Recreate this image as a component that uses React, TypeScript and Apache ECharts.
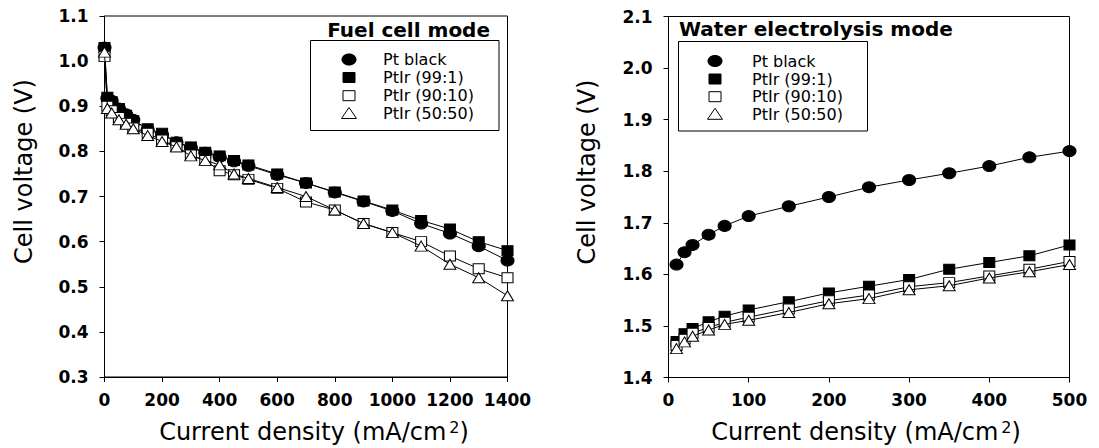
import React, { useEffect, useRef } from "react";
import * as echarts from "echarts";

// ---- Data ----
const SERIES_NAMES = ["Pt black", "PtIr (99:1)", "PtIr (90:10)", "PtIr (50:50)"];

// Fuel cell mode (left panel)
const FC_X = [0, 10, 25, 50, 75, 100, 150, 200, 250, 300, 350, 400, 450, 500, 600, 700, 800, 900, 1000, 1100, 1200, 1300, 1400];
const FC_PT = [1.03, 0.918, 0.912, 0.895, 0.882, 0.870, 0.848, 0.837, 0.820, 0.808, 0.797, 0.788, 0.778, 0.768, 0.748, 0.730, 0.709, 0.689, 0.668, 0.640, 0.618, 0.590, 0.558];
const FC_99 = [1.03, 0.92, 0.91, 0.895, 0.88, 0.868, 0.85, 0.84, 0.82, 0.81, 0.798, 0.79, 0.78, 0.77, 0.75, 0.73, 0.71, 0.69, 0.67, 0.647, 0.628, 0.600, 0.580];
const FC_90 = [1.01, 0.90, 0.89, 0.875, 0.862, 0.852, 0.84, 0.825, 0.81, 0.792, 0.78, 0.757, 0.748, 0.738, 0.718, 0.688, 0.670, 0.640, 0.620, 0.600, 0.568, 0.540, 0.520];
const FC_50 = [1.02, 0.895, 0.885, 0.87, 0.86, 0.85, 0.835, 0.822, 0.81, 0.79, 0.78, 0.77, 0.75, 0.74, 0.72, 0.70, 0.67, 0.64, 0.62, 0.59, 0.55, 0.52, 0.48];

// Water electrolysis mode (right panel)
const WE_X = [10, 20, 30, 50, 70, 100, 150, 200, 250, 300, 350, 400, 450, 500];
const WE_PT = [1.619, 1.643, 1.657, 1.677, 1.694, 1.713, 1.732, 1.750, 1.769, 1.783, 1.796, 1.810, 1.827, 1.839];
const WE_99 = [1.470, 1.485, 1.495, 1.508, 1.519, 1.531, 1.547, 1.564, 1.577, 1.590, 1.610, 1.623, 1.636, 1.657];
const WE_90 = [1.462, 1.474, 1.486, 1.497, 1.507, 1.517, 1.533, 1.549, 1.560, 1.576, 1.584, 1.597, 1.610, 1.625];
const WE_50 = [1.456, 1.469, 1.480, 1.492, 1.503, 1.511, 1.526, 1.543, 1.553, 1.570, 1.578, 1.593, 1.605, 1.619];

const TITLES = ["Fuel cell mode", "Water electrolysis mode"];
const X_TITLE = "Current density (mA/cm{sup|2})";
const Y_TITLE = "Cell voltage (V)";

const FONT = "DejaVu Sans";

const STYLES = [
  { symbol: "circle", size: [13, 11], fill: "#000" },
  { symbol: "rect", size: [11, 10], fill: "#000" },
  { symbol: "rect", size: [11, 10], fill: "#fff" },
  { symbol: "triangle", size: [12, 10], fill: "#fff" },
];

function mkSeries(idx: number, xs: number[], ys: number[], axis: number) {
  const st = STYLES[idx];
  return {
    type: "line",
    name: SERIES_NAMES[idx],
    xAxisIndex: axis,
    yAxisIndex: axis,
    data: xs.map((x, i) => [x, ys[i]]),
    symbol: st.symbol,
    symbolSize: st.size,
    showAllSymbol: true,
    lineStyle: { color: "#000", width: 1 },
    itemStyle: { color: st.fill, borderColor: "#000", borderWidth: 1, opacity: 1 },
    emphasis: { disabled: true },
    silent: true,
    z: 2 + idx,
  };
}

function xAxisCfg(grid: number, max: number, interval: number, shift: number) {
  return {
    type: "value",
    gridIndex: grid,
    min: 0,
    max,
    interval,
    axisLine: { show: true, onZero: false, lineStyle: { color: "#000", width: 1 } },
    axisTick: { show: true, inside: false, length: 5, lineStyle: { color: "#000", width: 1 } },
    axisLabel: {
      color: "#000",
      fontFamily: FONT,
      fontWeight: "bold",
      fontSize: 17,
      margin: 14,
      formatter: (v: number) => String(v),
    },
    splitLine: { show: false },
    name: X_TITLE,
    nameLocation: "middle",
    nameGap: 42,
    nameTextStyle: {
      color: "#000",
      fontFamily: FONT,
      fontSize: 24,
      lineHeight: 25,
      padding: shift >= 0 ? [0, 0, 0, 2 * shift] : [0, -2 * shift, 0, 0],
      rich: {
        sup: { fontFamily: FONT, fontSize: 16, lineHeight: 25, verticalAlign: "top", color: "#000", padding: [0, 0, 0, 3] },
      },
    },
  };
}

function yAxisCfg(grid: number, min: number, max: number, gap: number) {
  return {
    type: "value",
    gridIndex: grid,
    min,
    max,
    interval: 0.1,
    axisLine: { show: true, onZero: false, lineStyle: { color: "#000", width: 1 } },
    axisTick: { show: true, inside: false, length: 5, lineStyle: { color: "#000", width: 1 } },
    axisLabel: {
      color: "#000",
      fontFamily: FONT,
      fontWeight: "bold",
      fontSize: 17,
      margin: 16,
      formatter: (v: number) => v.toFixed(1),
    },
    splitLine: { show: false },
    name: Y_TITLE,
    nameLocation: "middle",
    nameGap: gap,
    nameTextStyle: { color: "#000", fontFamily: FONT, fontSize: 24, lineHeight: 24, padding: [0, 0, 0, 50] },
  };
}

// Legend drawn as graphic elements (box, markers, real text labels)
function legendGraphic(bx: number, by: number, bw: number, bh: number, mx: number, tx: number, rows: number[]) {
  const children: any[] = [
    { type: "rect", shape: { x: bx, y: by, width: bw, height: bh }, style: { fill: "#fff", stroke: "#000", lineWidth: 1 } },
  ];
  rows.forEach((cy, i) => {
    if (i === 0) {
      children.push({ type: "ellipse", shape: { cx: mx, cy, rx: 7.5, ry: 6 }, style: { fill: "#000" } });
    } else if (i === 1 || i === 2) {
      children.push({
        type: "rect",
        shape: { x: mx - 6, y: cy - 5, width: 12, height: 10 },
        style: { fill: i === 1 ? "#000" : "#fff", stroke: "#000", lineWidth: 1 },
      });
    } else {
      children.push({
        type: "polygon",
        shape: { points: [[mx, cy - 6], [mx + 7.5, cy + 5], [mx - 7.5, cy + 5]] },
        style: { fill: "#fff", stroke: "#000", lineWidth: 1 },
      });
    }
    children.push({
      type: "text",
      style: {
        text: SERIES_NAMES[i],
        x: tx,
        y: cy,
        fontSize: 16,
        lineHeight: 16,
        fontFamily: FONT,
        fill: "#000",
        verticalAlign: "middle",
        align: "left",
      },
    });
  });
  return { type: "group", z: 100, children };
}

export default function App() {
  const ref = useRef<HTMLDivElement>(null);
  useEffect(() => {
    if (!ref.current) return;
    const chart = echarts.init(ref.current, undefined, { renderer: "svg" });
    chart.setOption({
      animation: false,
      backgroundColor: "#fff",
      title: [
        {
          text: TITLES[0],
          right: 609,
          top: 20,
          padding: 0,
          textStyle: { color: "#000", fontFamily: FONT, fontWeight: "bold", fontSize: 20 },
        },
        {
          text: TITLES[1],
          left: 679,
          top: 19,
          padding: 0,
          textStyle: { color: "#000", fontFamily: FONT, fontWeight: "bold", fontSize: 20 },
        },
      ],
      graphic: [
        legendGraphic(310.5, 40.5, 188.5, 90, 349, 383, [59.5, 77.5, 95.7, 113.5]),
        legendGraphic(678.5, 41.5, 189, 89.5, 715, 752, [61, 79, 96.7, 114.3]),
      ],
      grid: [
        {
          left: 104.5, top: 16, width: 403, height: 361, show: true, borderColor: "#000", borderWidth: 1,
          backgroundColor: "transparent", containLabel: false, outerBoundsMode: "none",
        },
        {
          left: 668.5, top: 16.5, width: 401, height: 361, show: true, borderColor: "#000", borderWidth: 1,
          backgroundColor: "transparent", containLabel: false, outerBoundsMode: "none",
        },
      ],
      xAxis: [xAxisCfg(0, 1400, 200, 8), xAxisCfg(1, 500, 100, -3)],
      yAxis: [yAxisCfg(0, 0.3, 1.1, 69), yAxisCfg(1, 1.4, 2.1, 70)],
      series: [
        mkSeries(0, FC_X, FC_PT, 0),
        mkSeries(1, FC_X, FC_99, 0),
        mkSeries(2, FC_X, FC_90, 0),
        mkSeries(3, FC_X, FC_50, 0),
        mkSeries(0, WE_X, WE_PT, 1),
        mkSeries(1, WE_X, WE_99, 1),
        mkSeries(2, WE_X, WE_90, 1),
        mkSeries(3, WE_X, WE_50, 1),
      ],
    });
    return () => chart.dispose();
  }, []);
  return <div ref={ref} style={{ position: "absolute", left: 0, top: 0, width: 1099, height: 448 }} />;
}
